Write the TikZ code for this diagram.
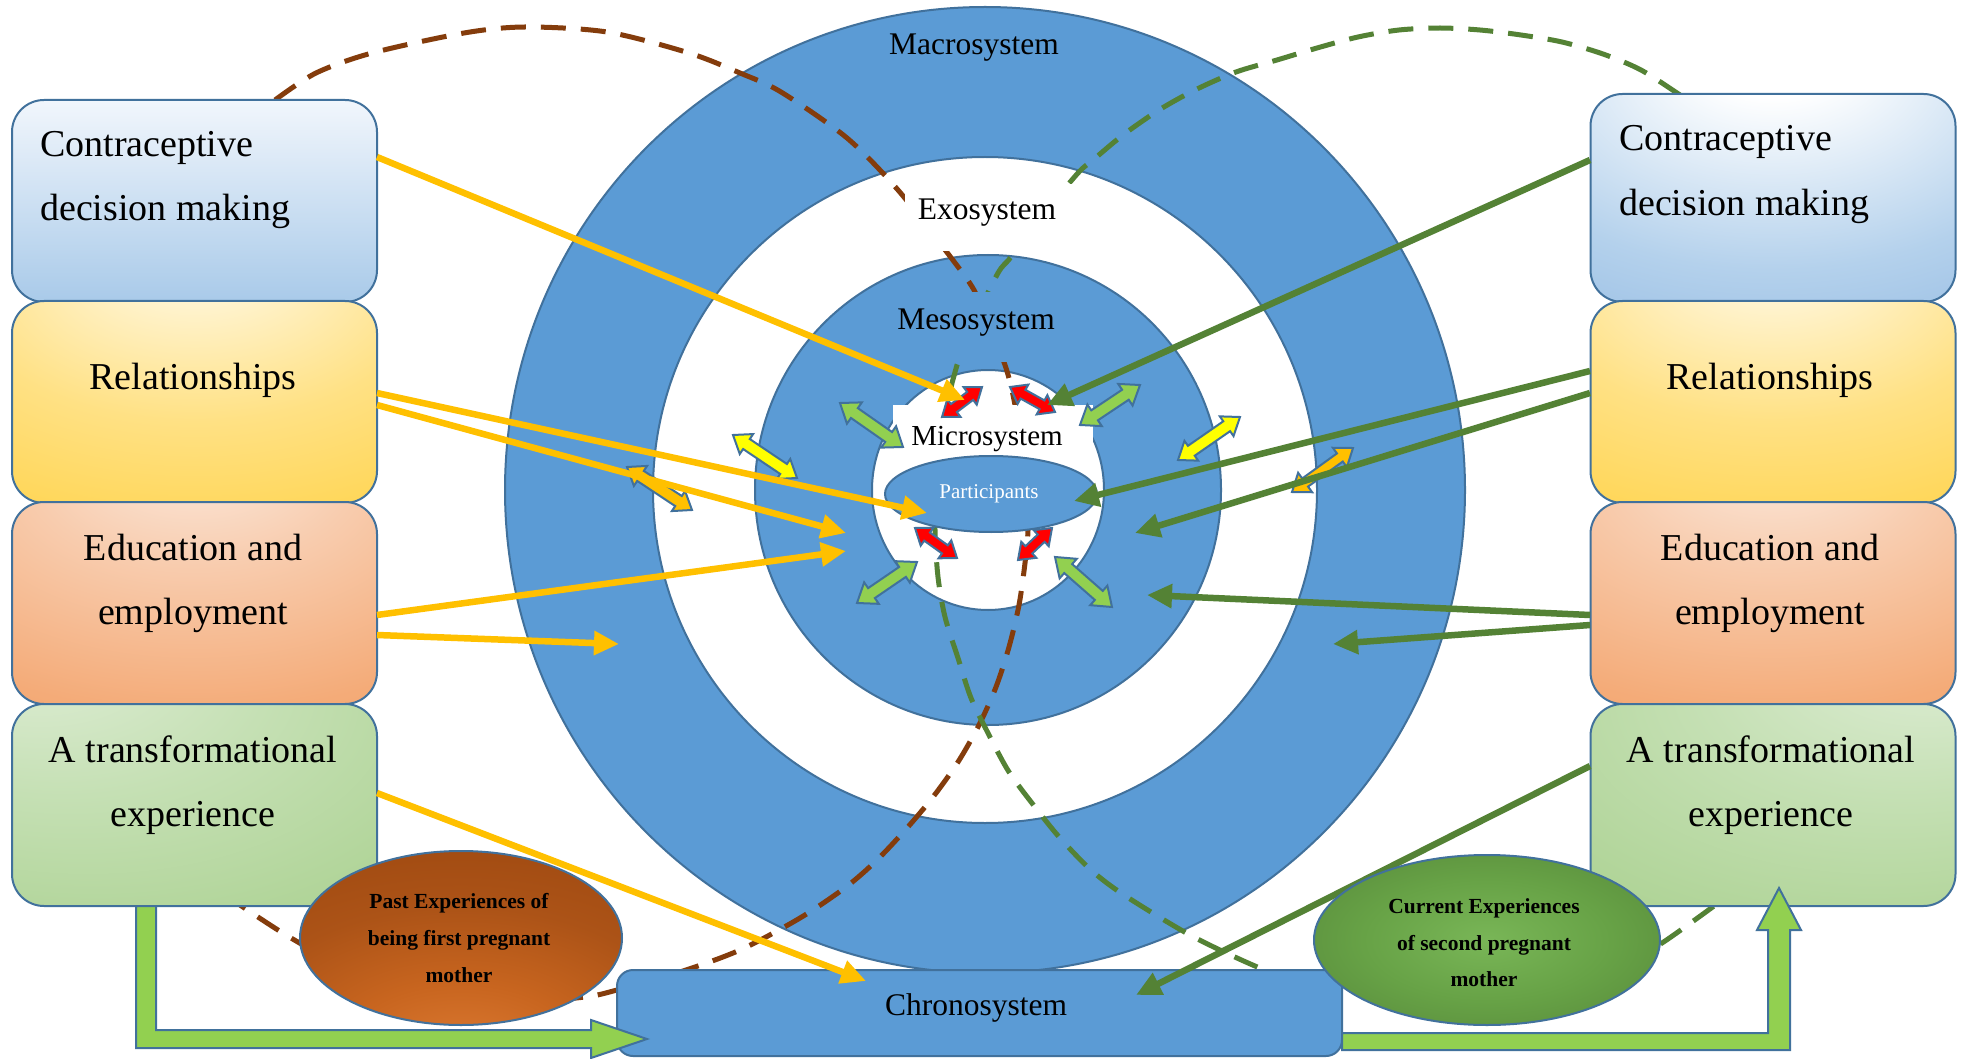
\documentclass[tikz,border=0pt]{standalone}
\usepackage{fontspec}
\setmainfont{Liberation Serif}
\usetikzlibrary{arrows.meta,shapes.geometric}

% palette
\definecolor{bordercol}{HTML}{41719C}
\definecolor{ringblue}{HTML}{5B9BD5}
\definecolor{brownline}{HTML}{843C0C}
\definecolor{darkgreen}{HTML}{548235}
\definecolor{gold}{HTML}{FFC000}
\definecolor{arrowgreen}{HTML}{92D050}
\definecolor{brightyellow}{HTML}{FFFF00}
\definecolor{blueTop}{HTML}{F1F6FC}
\definecolor{blueBot}{HTML}{A9CAE9}
\definecolor{blueMid}{HTML}{B4D1EC}
\definecolor{blueEdge}{HTML}{7FACDC}
\definecolor{yelA}{HTML}{FFF6DA}
\definecolor{yelB}{HTML}{FFE184}
\definecolor{yelC}{HTML}{FFD142}
\definecolor{oraA}{HTML}{FCEDE3}
\definecolor{oraB}{HTML}{F8CCAE}
\definecolor{oraC}{HTML}{F4AB78}
\definecolor{oraD}{HTML}{F29C60}
\definecolor{grnA}{HTML}{E2EFDA}
\definecolor{grnB}{HTML}{C5E0B4}
\definecolor{grnC}{HTML}{AED395}
\definecolor{grnD}{HTML}{9CC77F}
\definecolor{pastA}{HTML}{E07E36}
\definecolor{pastB}{HTML}{C8651F}
\definecolor{pastC}{HTML}{AC5317}
\definecolor{pastD}{HTML}{9C470F}
\definecolor{nowA}{HTML}{79B657}
\definecolor{nowB}{HTML}{67A246}
\definecolor{nowC}{HTML}{588B3B}
\definecolor{nowD}{HTML}{507D33}

% glows for the boxes and the two experience ellipses
\pgfdeclareradialshading{glowblue}{\pgfpoint{0bp}{38bp}}{color(0bp)=(white); color(10bp)=(white); color(40bp)=(blueMid); color(75bp)=(blueEdge); color(100bp)=(blueEdge)}
\pgfdeclareradialshading{glowyellow}{\pgfpoint{0bp}{40bp}}{color(0bp)=(white); color(8bp)=(yelA); color(32bp)=(yelB); color(60bp)=(yelC); color(100bp)=(yelC)}
\pgfdeclareradialshading{gloworange}{\pgfpoint{0bp}{40bp}}{color(0bp)=(oraA); color(22bp)=(oraB); color(48bp)=(oraC); color(75bp)=(oraD); color(100bp)=(oraD)}
\pgfdeclareradialshading{glowgreenL}{\pgfpoint{-25bp}{42bp}}{color(0bp)=(grnA); color(28bp)=(grnB); color(55bp)=(grnC); color(85bp)=(grnD); color(100bp)=(grnD)}
\pgfdeclareradialshading{glowgreenR}{\pgfpoint{25bp}{42bp}}{color(0bp)=(grnA); color(28bp)=(grnB); color(55bp)=(grnC); color(85bp)=(grnD); color(100bp)=(grnD)}
\pgfdeclareradialshading{pastfill}{\pgfpoint{0bp}{-38bp}}{color(0bp)=(pastA); color(18bp)=(pastB); color(34bp)=(pastC); color(55bp)=(pastD); color(100bp)=(pastD)}
\pgfdeclareradialshading{nowfill}{\pgfpoint{0bp}{0bp}}{color(0bp)=(nowA); color(18bp)=(nowB); color(34bp)=(nowC); color(48bp)=(nowD); color(100bp)=(nowD)}

\tikzset{
  ring/.style={ellipse, draw=bordercol, line width=2pt, inner sep=0pt, outer sep=0pt},
  sidebox/.style={rectangle, rounded corners=32pt, draw=bordercol, line width=2pt,
    minimum width=365pt, minimum height=202pt, inner sep=0pt, outer sep=0pt},
  boxtext/.style={inner sep=0pt, font=\fontsize{38}{46}\selectfont},
  ringtext/.style={inner sep=0pt, anchor=base, font=\fontsize{31.5}{38}\selectfont},
  blobtext/.style={inner sep=0pt, anchor=base, font=\fontsize{21.5}{26}\selectfont\bfseries},
  dashcurve/.style={line width=5pt, dash pattern=on 25pt off 15pt},
  feed/.style={line width=6.5pt, -{Triangle[length=25pt,width=23pt]}},
  smallarrow/.style={draw=bordercol, line width=2pt, line join=miter},
  bentarrow/.style={draw=bordercol, line width=2pt, fill=arrowgreen, line join=miter},
  blob/.style={ellipse, draw=bordercol, line width=2pt, inner sep=0pt},
}

% two-headed block arrow: x1 y1 x2 y2 colour head-halfwidth shaft-halfwidth
\newcommand\twoway[7]{%
  \pgfmathsetmacro\twA{atan2(-(#4-#2),#3-#1)}%
  \pgfmathsetmacro\twL{veclen(#3-#1,#4-#2)}%
  \pgfmathsetmacro\twH{1.35*#6}%
  \pgfmathsetmacro\twM{\twL-\twH}%
  \draw[smallarrow, fill=#5, shift={(#1,#2)}, rotate=\twA]
    (0,0) -- (\twH,#6) -- (\twH,#7) -- (\twM,#7) -- (\twM,#6) -- (\twL,0)
    -- (\twM,-#6) -- (\twM,-#7) -- (\twH,-#7) -- (\twH,-#6) -- cycle;
}

\begin{document}
\begin{tikzpicture}[x=1pt, y=-1pt]
\useasboundingbox (0,0) rectangle (1968,1059);
\fill[white] (0,0) rectangle (1968,1059);

% nested system rings
\node[ring, fill=ringblue, minimum width=960pt, minimum height=966pt] (macro) at (985,490) {};
\node[ring, fill=white, minimum width=664pt, minimum height=666pt] (exo) at (985,490) {};
\node[ring, fill=ringblue, minimum width=466pt, minimum height=470pt] (meso) at (988,490) {};
\node[ring, fill=white, minimum width=232pt, minimum height=240pt] (micro) at (988,490) {};

% dashed links between past and current experiences
\draw[dashcurve, brownline] plot[smooth, tension=0.5] coordinates {
  (275,100) (316,73) (372,53) (464,33) (525,27) (607,32) (689,53) (740,73) (781,92)
  (847,138) (898,190) (949,255) (974,290) (990,328) (1005,365) (1013,395) (1021,440)
  (1027,490) (1028,530) (1025,563) (1019,605) (1009,647) (996,687) (979,725) (958,762)
  (933,797) (907,828) (877,860) (846,887) (800,918) (740,950) (680,972) (617,990)
  (585,997) (520,1002) (440,1000) (360,975) (291,938) (240,905)};
\draw[dashcurve, darkgreen] plot[smooth, tension=0.5] coordinates {
  (1680,95) (1641,70) (1603,54) (1562,42) (1521,35) (1480,30) (1440,28) (1399,30)
  (1358,37) (1317,48) (1277,60) (1236,72) (1195,90) (1159,110) (1123,135) (1093,160)
  (1078,173) (1043,215) (1011,257) (998,273) (975,320) (957,365) (952,383) (943,430)
  (936,480) (935,530) (938,577) (945,617) (958,658) (971,698) (989,735) (1009,772)
  (1035,807) (1060,838) (1091,870) (1124,895) (1190,935) (1255,966) (1300,982)
  (1400,988) (1540,988) (1620,965) (1659,945) (1714,906)};

% ring labels
\node[ringtext] (macrolbl) at (974,55) {Macrosystem};
\node[fill=white, minimum width=175pt, minimum height=67pt, inner sep=0pt] (exobox) at (992,218) {};
\node[ringtext] (exolbl) at (987,220) {Exosystem};
\node[fill=ringblue, minimum width=210pt, minimum height=70pt, inner sep=0pt] (mesobox) at (1000,327) {};
\node[ringtext] (mesolbl) at (976,330) {Mesosystem};
\node[fill=white, minimum width=200pt, minimum height=57pt, inner sep=0pt] (microbox) at (993,433.5) {};
\node[inner sep=0pt, anchor=base, font=\fontsize{29}{34}\selectfont] (microlbl) at (987,445) {Microsystem};
\node[ring, fill=ringblue, minimum width=212pt, minimum height=76pt] (part) at (991,494) {};
\node[inner sep=0pt, anchor=base, text=white, font=\fontsize{21}{25}\selectfont] (partlbl) at (989,498) {Participants};

% interactions between the layers
\twoway{942}{417}{982}{387}{red}{11}{5}
\twoway{1010}{387}{1055}{412}{red}{11}{5}
\twoway{915}{528}{957}{558}{red}{11}{5}
\twoway{1052}{528}{1018}{560}{red}{11}{5}
\twoway{840}{403}{903}{447}{arrowgreen}{13}{6}
\twoway{1080}{425}{1140}{385}{arrowgreen}{13}{6}
\twoway{857}{603}{917}{562}{arrowgreen}{13}{6}
\twoway{1055}{557}{1112}{607}{arrowgreen}{13}{6}
\twoway{733}{435}{797}{478}{brightyellow}{12}{6}
\twoway{1178}{460}{1240}{417}{brightyellow}{12}{6}
\twoway{627}{467}{692}{510}{gold}{12}{6}
\twoway{1292}{492}{1353}{448}{gold}{12}{5}

% themes, first pregnancy
\node[sidebox, top color=blueTop, bottom color=blueBot] (L1) at (194.5,201) {};
\node[sidebox, shade, shading=glowyellow] (L2) at (194.5,402) {};
\node[sidebox, shade, shading=gloworange] (L3) at (194.5,603) {};
\node[sidebox, shade, shading=glowgreenL] (L4) at (194.5,805) {};
\node[boxtext, anchor=base west] (L1a) at (40,157) {Contraceptive};
\node[boxtext, anchor=base west] (L1b) at (40,221) {decision making};
\node[boxtext, anchor=base] (L2a) at (193,389) {Relationships};
\node[boxtext, anchor=base] (L3a) at (193,560) {Education and};
\node[boxtext, anchor=base] (L3b) at (193,624) {employment};
\node[boxtext, anchor=base] (L4a) at (193,762) {A transformational};
\node[boxtext, anchor=base] (L4b) at (193,826) {experience};

% themes, second pregnancy
\node[sidebox, shade, shading=glowblue, minimum height=208pt] (R1) at (1773,198) {};
\node[sidebox, shade, shading=glowyellow] (R2) at (1773,402) {};
\node[sidebox, shade, shading=gloworange] (R3) at (1773,603) {};
\node[sidebox, shade, shading=glowgreenR] (R4) at (1773,805) {};
\node[boxtext, anchor=base west] (R1a) at (1619,151) {Contraceptive};
\node[boxtext, anchor=base west] (R1b) at (1619,216) {decision making};
\node[boxtext, anchor=base] (R2a) at (1770,389) {Relationships};
\node[boxtext, anchor=base] (R3a) at (1770,560) {Education and};
\node[boxtext, anchor=base] (R3b) at (1770,624) {employment};
\node[boxtext, anchor=base] (R4a) at (1771,762) {A transformational};
\node[boxtext, anchor=base] (R4b) at (1771,826) {experience};

% time layer
\node[rectangle, rounded corners=16pt, draw=bordercol, line width=2pt, fill=ringblue,
      minimum width=725pt, minimum height=86pt, inner sep=0pt] (chrono) at (979.5,1013) {};
\node[ringtext] (chronolbl) at (976,1015) {Chronosystem};

% progression from first to second pregnancy
\draw[bentarrow] (136,906) -- (156,906) -- (156,1030) -- (591,1030) -- (591,1020)
  -- (647,1039) -- (591,1058) -- (591,1048) -- (136,1048) -- cycle;
\draw[bentarrow] (1342,1033) -- (1768,1033) -- (1768,930) -- (1757,930) -- (1779,888)
  -- (1801,930) -- (1790,930) -- (1790,1050) -- (1342,1050) -- cycle;

% links from themes into the system layers
\coordinate (y1s) at (377,157);  \coordinate (y1e) at (965,400);
\coordinate (y2s) at (377,393);  \coordinate (y2e) at (927,513);
\coordinate (y3s) at (377,405);  \coordinate (y3e) at (846,533);
\coordinate (y4s) at (377,615);  \coordinate (y4e) at (846,551);
\coordinate (y5s) at (377,635);  \coordinate (y5e) at (619,644);
\coordinate (y6s) at (377,793);  \coordinate (y6e) at (866,981);
\coordinate (g1s) at (1590,160); \coordinate (g1e) at (1047,405);
\coordinate (g2s) at (1590,371); \coordinate (g2e) at (1074,501);
\coordinate (g3s) at (1590,393); \coordinate (g3e) at (1135,533);
\coordinate (g4s) at (1590,615); \coordinate (g4e) at (1147,595);
\coordinate (g5s) at (1590,625); \coordinate (g5e) at (1333,644);
\coordinate (g6s) at (1590,766); \coordinate (g6e) at (1136,995);
\foreach \a in {y1,y2,y3,y4,y5,y6} \draw[feed, gold] (\a s) -- (\a e);
\foreach \a in {g1,g2,g3,g4,g5,g6} \draw[feed, darkgreen] (\a s) -- (\a e);

% the two pregnancies
\node[blob, shade, shading=pastfill, minimum width=322pt, minimum height=174pt] (past) at (461,938) {};
\node[blobtext] (pasta) at (459,908) {Past Experiences of};
\node[blobtext] (pastb) at (459,945) {being first pregnant};
\node[blobtext] (pastc) at (459,982) {mother};
\node[blob, shade, shading=nowfill, minimum width=346pt, minimum height=170pt] (now) at (1487,940) {};
\node[blobtext] (nowa) at (1484,913) {Current Experiences};
\node[blobtext] (nowb) at (1484,950) {of second pregnant};
\node[blobtext] (nowc) at (1484,986) {mother};
\end{tikzpicture}
\end{document}
